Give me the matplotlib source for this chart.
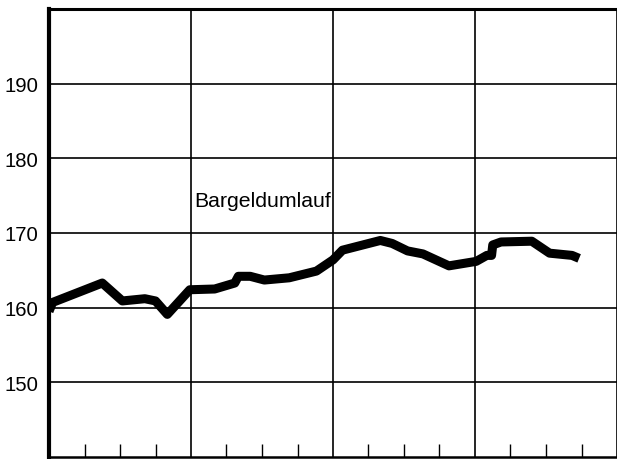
import matplotlib
matplotlib.use("Agg")
import matplotlib.pyplot as plt
from matplotlib.ticker import MultipleLocator

plt.rcParams['font.family'] = ['Liberation Sans', 'DejaVu Sans']

# months since start (4 years, quarterly minor ticks)
months = [0.0, 0.3, 4.5, 6.2, 8.1, 9.0, 10.0, 11.9, 14.0, 15.7, 16.0, 17.0, 18.2,
          20.3, 22.6, 24.0, 24.8, 28.0, 29.0, 30.3, 31.6, 33.8, 36.1, 37.0,
          37.4, 37.5, 38.2, 40.8, 42.3, 44.2, 44.8]
bargeld = [159.5, 160.7, 163.3, 160.9, 161.2, 160.9, 159.1, 162.4, 162.5, 163.3, 164.2, 164.2, 163.7,
           164.0, 164.9, 166.4, 167.7, 169.0, 168.6, 167.6, 167.2, 165.6, 166.2, 167.0,
           167.0, 168.4, 168.8, 168.9, 167.3, 167.0, 166.6]
y_ticks = [150, 160, 170, 180, 190]
label = "Bargeldumlauf"

fig = plt.figure(figsize=(6.17, 4.60), dpi=100)
ax = fig.add_axes([49/617, 2/460, 1 - 49/617, 448/460])

ax.plot(months, bargeld, color='black', lw=6.5, solid_joinstyle='round', solid_capstyle='butt')

ax.set_xlim(0, 48)
ax.set_ylim(140, 200)
ax.set_yticks(y_ticks)
ax.set_xticks([0, 12, 24, 36, 48])
ax.xaxis.set_minor_locator(MultipleLocator(3))
ax.set_xticklabels([])
ax.grid(True, which='major', color='black', lw=1.2)
ax.tick_params(axis='y', length=0, labelsize=14.6, pad=7.5)
ax.tick_params(axis='x', which='major', length=0)
ax.tick_params(axis='x', which='minor', direction='in', length=9.5, width=1.0)

ax.spines['right'].set_visible(False)
ax.spines['left'].set_linewidth(3.0)
ax.spines['top'].set_linewidth(2.2)
ax.spines['bottom'].set_linewidth(1.8)

ax.text(12.3, 174.4, label, fontsize=15.3, va='center', ha='left')

fig.savefig("out.png", dpi=100)
